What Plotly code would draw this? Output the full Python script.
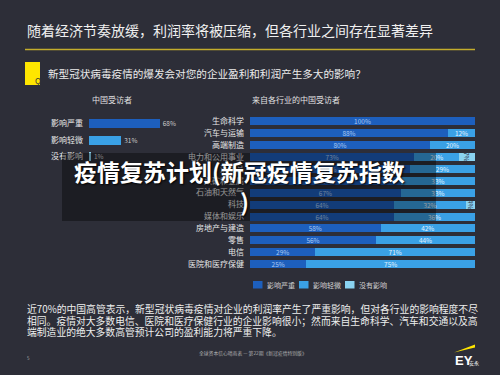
import plotly.graph_objects as go

# ---------------- data ----------------
overall_labels = ["影响严重", "影响轻微", "没有影响"]
overall_values = [68, 31, 1]

industries = ["生命科学", "汽车与运输", "高端制造", "电力和公用事业", "消费品",
              "采矿和金属", "石油和天然气", "科技", "媒体和娱乐", "房地产与建造",
              "零售", "电信", "医院和医疗保健"]
severe = [100, 88, 80, 73, 71, 67, 67, 64, 64, 58, 56, 29, 25]
mild = [0, 12, 20, 20, 29, 33, 33, 32, 36, 42, 44, 71, 75]
none_ = [0, 0, 0, 7, 0, 0, 0, 4, 0, 0, 0, 0, 0]

series_names = ["影响严重", "影响轻微", "没有影响"]
colors = ["#1d5fbd", "#3aa1e6", "#8ad3f1"]
text_colors = ["#a9c8f2", "#e2f3ff", "#2b3550"]

# ---------------- helpers ----------------
W, H = 500, 375
BG = "#2d2e38"
FONT = "Noto Sans CJK SC"


def px(x):
    return x / W


def py(y):
    return 1 - y / H


fig = go.Figure()

# left chart
fig.add_trace(go.Bar(
    y=overall_labels, x=overall_values, orientation="h",
    marker=dict(color=colors, line=dict(width=0)),
    text=[f"{v}%" for v in overall_values], textposition="outside",
    textfont=dict(size=7, color="#c9c9c9", family=FONT),
    cliponaxis=False, width=0.54, xaxis="x", yaxis="y", showlegend=False,
))

# right chart
for name, vals, c, tc in zip(series_names, [severe, mild, none_], colors, text_colors):
    fig.add_trace(go.Bar(
        y=industries, x=vals, orientation="h", name=name,
        marker=dict(color=c, line=dict(width=0)),
        text=[f"{v}%" if v else "" for v in vals], textposition="inside",
        insidetextanchor="middle", constraintext="none",
        textfont=dict(size=6.5, color=tc, family=FONT),
        width=0.67, xaxis="x2", yaxis="y2", showlegend=False,
    ))

axis_common = dict(showgrid=False, zeroline=False, showline=False, fixedrange=True)

fig.update_layout(
    width=W, height=H, autosize=False,
    margin=dict(l=0, r=0, t=0, b=0),
    paper_bgcolor=BG, plot_bgcolor=BG,
    barmode="stack",
    uniformtext=dict(minsize=6.5, mode="show"),
    font=dict(family=FONT, color="#e6e6e6"),
    xaxis=dict(domain=[px(89), px(193)], range=[0, 100], showticklabels=False, anchor="y", **axis_common),
    yaxis=dict(domain=[py(165), py(115)], autorange="reversed", anchor="x", ticks="",
               ticklabelstandoff=5, tickfont=dict(size=8, color="#e6e6e6"), **axis_common),
    xaxis2=dict(domain=[px(250), px(475)], range=[0, 100], showticklabels=False, anchor="y2", **axis_common),
    yaxis2=dict(domain=[py(270.3), py(115)], autorange="reversed", anchor="x2", ticks="",
                ticklabelstandoff=5, tickfont=dict(size=8, color="#e6e6e6"), **axis_common),
)

shapes = []
annotations = []

# title and rule
annotations.append(dict(text="随着经济节奏放缓，利润率将被压缩，但各行业之间存在显著差异",
                        x=px(25), y=py(30), xref="paper", yref="paper", xanchor="left", yanchor="middle",
                        showarrow=False, font=dict(size=14, color="#f0f0f0", family=FONT)))
shapes.append(dict(type="line", xref="paper", yref="paper", x0=px(25), x1=px(475), y0=py(49.5), y1=py(49.5),
                   line=dict(color="#c4ad2c", width=1.5)))

# Q box and question
shapes.append(dict(type="rect", xref="paper", yref="paper", x0=px(25), x1=px(40), y0=py(85), y1=py(62),
                   fillcolor="#ffe600", line=dict(width=0)))
annotations.append(dict(text="Q", x=px(32.5), y=py(73.5), xref="paper", yref="paper", showarrow=False,
                        font=dict(size=8, color="#333333", family=FONT)))
annotations.append(dict(text="新型冠状病毒疫情的爆发会对您的企业盈利和利润产生多大的影响？",
                        x=px(46), y=py(73), xref="paper", yref="paper", xanchor="left", yanchor="middle",
                        showarrow=False, font=dict(size=10.6, color="#ececec", family=FONT)))

# subtitles
annotations.append(dict(text="中国受访者", x=px(90), y=py(99), xref="paper", yref="paper",
                        xanchor="left", yanchor="middle", showarrow=False,
                        font=dict(size=8, color="#e0e0e0", family=FONT)))
annotations.append(dict(text="来自各行业的中国受访者", x=px(250), y=py(99), xref="paper", yref="paper",
                        xanchor="left", yanchor="middle", showarrow=False,
                        font=dict(size=8, color="#e0e0e0", family=FONT)))

# legend
for i, (name, c) in enumerate(zip(series_names, colors)):
    x0 = 253 + i * 46
    shapes.append(dict(type="rect", xref="paper", yref="paper", x0=px(x0), x1=px(x0 + 9.5),
                       y0=py(288.5), y1=py(281), fillcolor=c, line=dict(width=0)))
    annotations.append(dict(text=name, x=px(x0 + 12), y=py(285), xref="paper", yref="paper",
                            xanchor="left", yanchor="middle", showarrow=False,
                            font=dict(size=7, color="#cfcfcf", family=FONT)))

# paragraph
para = ["近70%的中国高管表示，新型冠状病毒疫情对企业的利润率产生了严重影响，但对各行业的影响程度不尽",
        "相同。疫情对大多数电信、医院和医疗保健行业的企业影响很小；然而来自生命科学、汽车和交通以及高",
        "端制造业的绝大多数高管预计公司的盈利能力将严重下降。"]
for line, yy in zip(para, [309, 320.5, 332]):
    annotations.append(dict(text=line, x=px(25), y=py(yy), xref="paper", yref="paper",
                            xanchor="left", yanchor="middle", showarrow=False,
                            font=dict(size=9.8, color="#eeeeee", family=FONT)))

# footer
annotations.append(dict(text="5", x=px(25), y=py(358), xref="paper", yref="paper", xanchor="left",
                        yanchor="middle", showarrow=False, font=dict(size=4.5, color="#aaaaaa", family=FONT)))
annotations.append(dict(text="全球资本信心晴雨表 — 第22期《新冠疫情特别版》", x=px(253), y=py(359),
                        xref="paper", yref="paper", showarrow=False,
                        font=dict(size=4.8, color="#b0b0b0", family=FONT)))

# EY logo
shapes.append(dict(type="path", xref="paper", yref="paper",
                   path=f"M {px(454)},{py(352.5)} L {px(475)},{py(344.5)} L {px(475)},{py(347.5)} Z",
                   fillcolor="#ffe600", line=dict(width=0)))
annotations.append(dict(text="<b>EY</b>", x=px(452.5), y=py(360.5), xref="paper", yref="paper",
                        xanchor="left", yanchor="middle", showarrow=False,
                        font=dict(size=13, color="#ffffff", family="Liberation Sans")))
annotations.append(dict(text="安永", x=px(467), y=py(363), xref="paper", yref="paper",
                        xanchor="left", yanchor="middle", showarrow=False,
                        font=dict(size=5, color="#ffffff", family=FONT)))

# overlay
shapes.append(dict(type="rect", xref="paper", yref="paper", x0=px(62), x1=px(436), y0=py(221), y1=py(153),
                   fillcolor="rgba(0,0,0,0.36)", line=dict(width=0), layer="above"))
annotations.append(dict(text="疫情复苏计划(新冠疫情复苏指数<br>\u00a0\u00a0)", x=px(239), y=py(186),
                        xref="paper", yref="paper", xanchor="center", yanchor="middle", align="center",
                        showarrow=False,
                        font=dict(size=23, color="#ffffff", family=FONT, weight="bold",
                                  shadow="1px 1px 2px #000000")))

fig.update_layout(shapes=shapes, annotations=annotations)

fig.write_html("out.html", config={"displayModeBar": False})
